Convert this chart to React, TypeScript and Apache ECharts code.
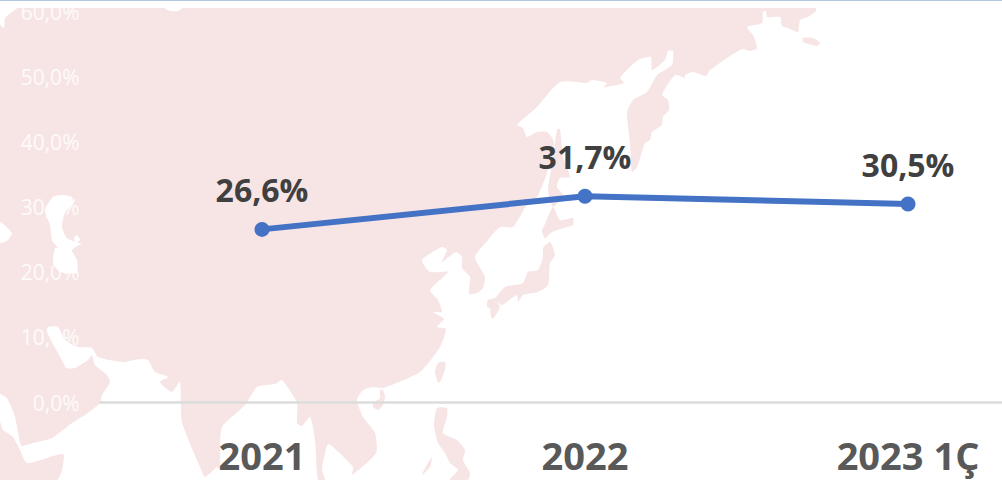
import React, { useEffect, useRef } from "react";
import * as echarts from "echarts";

const categories = ["2021", "2022", "2023 1Ç"];
const shareValues = [26.6, 31.7, 30.5];
const yTicks = { min: 0, max: 60, interval: 10 };

const PINK = "#f7e5e5";
const FONT = '"Open Sans", "Noto Sans", sans-serif';

// Decorative background map silhouette (pixel outline, not data)
const mainland = [
  [816,8],[816,11],[808,17],[800,20],[798,32],[788,28],[782,26],[780,17],[767,17],[766,11],[763,12],[762,23],[747,27],[753,35],[757,48],[750,51],[742,49],[710,70],[706,76],[693,72],[685,75],[685,78],[675,75],[662,95],[668,100],[669,110],[663,117],[662,125],[652,132],[650,140],[645,143],[637,167],[632,172],
  [630,143],[627,113],[633,100],[647,92],[657,75],[672,65],[673,51],[668,51],[665,60],[652,70],[651,57],[638,60],[630,67],[620,78],[624,83],[604,87],[607,83],[592,80],[587,83],[560,82],[537,107],[517,125],[523,128],[527,137],[537,132],[547,132],[554,142],[547,173],[537,197],[528,203],[513,227],[500,227],[488,240],
  [475,257],[485,277],[483,288],[477,293],[469,294],[470,277],[462,268],[462,257],[456,252],[442,262],[447,250],[442,247],[422,260],[430,272],[448,272],[430,290],[438,300],[442,312],[433,312],[444,319],[437,327],[446,329],[440,347],[420,372],[383,388],[373,387],[363,390],[357,400],[363,417],[375,433],[376,453],[352,475],[353,467],[333,447],[328,444],[325,453],[322,470],[325,480],[318,480],[315,440],[310,417],[302,426],[297,423],[297,403],[282,380],[275,384],[257,387],[245,405],[222,427],[220,450],[220,470],[217,467],[205,477],[200,467],[182,422],[180,382],[172,392],[160,382],[168,377],[155,372],[148,360],[140,359],[123,362],[98,357],[92,348],[78,347],[65,340],[58,327],[48,327],[47,332],[63,362],[66,368],[75,368],[88,360],[92,355],[95,365],[107,375],[110,382],[102,395],[100,403],[85,415],[72,423],[52,438],[33,443],[22,446],[20,443],[15,417],[7,398],[0,393],[0,8],
];
const africa = [[0,422],[3,430],[13,437],[20,450],[27,463],[63,454],[62,470],[57,480],[0,480]];
const pinkIslands = [
  [[557,130],[560,129],[563,157],[570,177],[560,178],[557,187],[563,195],[553,207],[548,190],[552,165]],
  [[553,207],[560,220],[573,218],[573,225],[563,228],[552,232],[545,238],[543,230]],
  [[547,223],[573,223],[563,228],[552,232],[545,238],[542,230]],
  [[550,242],[555,255],[550,263],[548,285],[538,292],[523,295],[518,302],[517,295],[502,305],[497,302],[500,307],[493,319],[491,317],[490,308],[487,307],[488,300],[495,298],[505,287],[523,283],[528,272],[538,270],[543,257],[543,248]],
  [[438,363],[445,362],[445,370],[439,383],[435,373]],
  [[380,390],[383,390],[385,397],[383,405],[378,410],[373,407],[373,403],[380,398]],
  [[437,408],[447,408],[447,417],[443,433],[457,440],[465,450],[463,460],[470,473],[468,480],[450,480],[458,470],[450,463],[445,453],[438,443],[434,425]],
  [[432,457],[430,467],[422,475],[425,468]],
  [[803,38],[813,38],[820,43],[817,46],[803,42]],
];
const whitePatches = [
  [[0,8],[17,8],[5,18],[4,28],[0,24]],
  [[53,197],[62,195],[72,197],[73,203],[65,213],[62,227],[67,238],[78,243],[82,243],[72,250],[77,260],[77,273],[60,272],[53,263],[55,248],[58,248],[52,240],[50,225],[45,210]],
  [[0,222],[12,233],[8,240],[0,243]],
  [[165,8],[182,8],[178,11],[170,11]],
  [[77,235],[80,240],[76,243],[74,238]],
];

const poly = (points: number[][], fill: string, z: number) => ({
  type: "polygon",
  silent: true,
  z,
  shape: { points, smooth: 0.2 },
  style: { fill },
});

const pct = (v: number) => v.toFixed(1).replace(".", ",") + "%";

export default function App() {
  const ref = useRef<HTMLDivElement>(null);
  useEffect(() => {
    document.body.style.margin = "0";
    const chart = echarts.init(ref.current!, undefined, { renderer: "svg" });
    chart.setOption({
      animation: false,
      backgroundColor: "#ffffff",
      grid: { left: 100.5, top: 12, width: 969, height: 390.5, containLabel: false, outerBoundsMode: "none" },
      graphic: {
        elements: [
          poly(mainland, PINK, -10),
          poly(africa, PINK, -10),
          ...pinkIslands.map((p) => poly(p, PINK, -10)),
          ...whitePatches.map((p) => poly(p, "#ffffff", -9)),
          { type: "rect", silent: true, z: 50, shape: { x: 0, y: 0, width: 1002, height: 8 }, style: { fill: "#ffffff" } },
          { type: "rect", silent: true, z: 51, shape: { x: 0, y: 0, width: 1002, height: 1 }, style: { fill: "#b4c6e0" } },
        ],
      },
      xAxis: {
        type: "category",
        data: categories,
        axisTick: { show: false },
        axisLine: { lineStyle: { color: "#dcdcdc", width: 2.5 } },
        axisLabel: { color: "#595959", fontFamily: FONT, fontWeight: "bold", fontSize: 38, margin: 33 },
      },
      yAxis: {
        type: "value",
        min: yTicks.min,
        max: yTicks.max,
        interval: yTicks.interval,
        axisLine: { show: false },
        axisTick: { show: false },
        splitLine: { show: false },
        axisLabel: {
          color: "rgba(255,255,255,0.85)",
          fontFamily: FONT,
          fontSize: 21,
          margin: 21,
          formatter: (v: number) => pct(v),
        },
      },
      series: [
        {
          type: "line",
          data: shareValues,
          symbol: "circle",
          symbolSize: 15,
          lineStyle: { color: "#4472c4", width: 6 },
          itemStyle: { color: "#4472c4" },
          label: {
            show: true,
            position: "top",
            distance: 16,
            color: "#404040",
            fontFamily: FONT,
            fontWeight: "bold",
            fontSize: 32,
            formatter: (p: any) => pct(p.value),
          },
        },
      ],
    });
    return () => chart.dispose();
  }, []);
  return <div ref={ref} style={{ position: "fixed", left: 0, top: 0, width: 1002, height: 480 }} />;
}
